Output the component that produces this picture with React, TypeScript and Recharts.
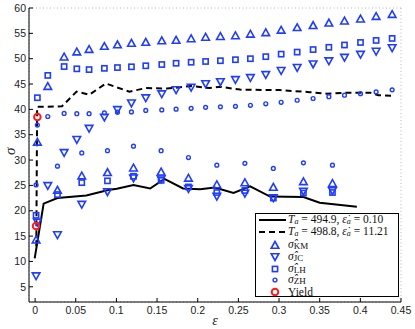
import {
  ComposedChart,
  CartesianGrid,
  Line,
  Scatter,
  XAxis,
  YAxis,
} from "recharts";

const BLUE = "#1f3cff";
const RED = "#ff1a1a";

const xTicks = [0, 0.05, 0.1, 0.15, 0.2, 0.25, 0.3, 0.35, 0.4, 0.45];
const yTicks = [5, 10, 15, 20, 25, 30, 35, 40, 45, 50, 55, 60];

// high strain-rate test (dashed curve)
const upperStrain = [
  0.0028, 0.0156, 0.0357, 0.0513, 0.0664, 0.0852, 0.1013, 0.1185, 0.1361,
  0.1558, 0.1734, 0.1919, 0.2097, 0.2279, 0.2464, 0.2648, 0.2837, 0.3026,
  0.3223, 0.3419, 0.3613, 0.3805, 0.4002, 0.4194, 0.4391,
];
const kmUpper = [
  33.5, 44.5, 50.3, 51.3, 51.8, 52.4, 52.7, 53.0, 53.2, 53.5, 53.6, 53.9, 54.2,
  54.35, 54.5, 54.8, 55.1, 55.6, 56.1, 56.5, 57.0, 57.4, 57.8, 58.3, 58.7,
];
const jcUpper = [
  17.8, 25.0, 31.5, 34.1, 36.3, 38.5, 40.0, 41.3, 42.3, 43.1, 43.9, 44.4, 45.1,
  45.5, 45.9, 46.3, 46.9, 47.7, 48.3, 49.0, 49.6, 50.3, 50.9, 51.5, 52.2,
];
const lhUpper = [
  42.3, 46.7, 48.45, 48.0, 47.85, 48.1, 48.25, 48.4, 48.6, 48.85, 49.1, 49.3,
  49.45, 49.6, 49.8, 50.0, 50.4, 50.9, 51.3, 51.8, 52.25, 52.7, 53.2, 53.6, 54.0,
];
const zhUpper = [
  36.9, 38.6, 39.2, 39.15, 39.15, 39.3, 39.45, 39.5, 39.8, 39.9, 40.05, 40.2,
  40.4, 40.5, 40.6, 40.8, 41.1, 41.4, 41.8, 42.15, 42.5, 42.8, 43.1, 43.45, 43.85,
];

// low strain-rate test (solid curve)
const lowerStrain = [
  0.0012, 0.0275, 0.0574, 0.089, 0.121, 0.155, 0.1886, 0.2235, 0.258, 0.293,
  0.33, 0.3657,
];
const kmLower = [14.2, 24.0, 26.85, 27.5, 28.4, 27.6, 26.4, 25.1, 25.5, 24.6, 25.7, 25.35];
const jcLower = [7.2, 15.3, 21.3, 23.8, 26.5, 26.3, 24.4, 22.9, 23.5, 22.6, 23.9, 24.0];
const lhLower = [19.1, 23.2, 25.55, 25.9, 26.8, 26.0, 24.7, 23.6, 24.0, 22.5, 23.5, 23.6];
const zhLower = [25.1, 28.8, 31.4, 31.85, 32.75, 31.85, 30.5, 29.0, 29.35, 28.35, 29.45, 29.0];

const yieldStrain = [0.0012, 0.0028];
const yieldStress = [17.0, 38.5];

const solidStrain = [
  -0.0005, 0.0105, 0.0275, 0.063, 0.09, 0.1005, 0.121, 0.1415, 0.159, 0.182,
  0.203, 0.221, 0.244, 0.2645, 0.289, 0.33, 0.35, 0.3957,
];
const solidStress = [
  10.6, 21.4, 22.5, 23.0, 24.1, 24.35, 25.1, 24.4, 26.3, 24.4, 24.25, 24.6, 23.5,
  24.8, 22.8, 22.7, 21.6, 20.8,
];
const dashedStrain = [
  0.0015, 0.0025, 0.033, 0.051, 0.0668, 0.087, 0.116, 0.136, 0.162, 0.192,
  0.215, 0.2275, 0.252, 0.301, 0.338, 0.359, 0.383, 0.412, 0.422, 0.44,
];
const dashedStress = [
  13.0, 40.5, 40.6, 43.5, 42.9, 45.1, 43.5, 44.2, 44.1, 44.6, 44.2, 44.45, 43.9,
  43.8, 43.4, 43.1, 43.3, 43.3, 42.8, 42.7,
];

const pts = (xs: number[], ys: number[]) => xs.map((x, i) => ({ x, y: ys[i] }));

const kmData = [...pts(upperStrain, kmUpper), ...pts(lowerStrain, kmLower)];
const jcData = [...pts(upperStrain, jcUpper), ...pts(lowerStrain, jcLower)];
const lhData = [...pts(upperStrain, lhUpper), ...pts(lowerStrain, lhLower)];
const zhData = [...pts(upperStrain, zhUpper), ...pts(lowerStrain, zhLower)];
const yieldData = pts(yieldStrain, yieldStress);
const solidData = pts(solidStrain, solidStress);
const dashedData = pts(dashedStrain, dashedStress);

const TriUp = ({ cx, cy }: any) => (
  <polygon
    points={`${cx},${cy - 4} ${cx - 3.8},${cy + 2.8} ${cx + 3.8},${cy + 2.8}`}
    fill="none"
    stroke={BLUE}
    strokeWidth={1.6}
  />
);
const TriDown = ({ cx, cy }: any) => (
  <polygon
    points={`${cx},${cy + 4} ${cx - 3.8},${cy - 2.8} ${cx + 3.8},${cy - 2.8}`}
    fill="none"
    stroke={BLUE}
    strokeWidth={1.6}
  />
);
const Square = ({ cx, cy }: any) => (
  <rect x={cx - 2.6} y={cy - 2.6} width={5.2} height={5.2} fill="none" stroke={BLUE} strokeWidth={1.6} />
);
const Dot = ({ cx, cy }: any) => (
  <circle cx={cx} cy={cy} r={1.9} fill="none" stroke={BLUE} strokeWidth={1.4} />
);
const YieldMark = ({ cx, cy }: any) => (
  <circle cx={cx} cy={cy} r={3.3} fill="none" stroke={RED} strokeWidth={2} />
);

const serif = "'Liberation Serif', 'DejaVu Serif', serif";
const sans = "'Liberation Sans', Arial, sans-serif";

const subStyle = { fontSize: 8, position: "relative", top: 1.5 } as const;

function LegendBox() {
  const row = (h: number, icon: any, text: any) => (
    <div style={{ display: "flex", alignItems: "center", height: h, whiteSpace: "nowrap" }}>
      <svg width={30} height={12} style={{ marginRight: 1, flex: "none" }}>
        {icon}
      </svg>
      {text}
    </div>
  );
  const hat = (name: string) => (
    <span>
      <i>{"σ\u0302"}</i>
      <span style={{ ...subStyle, fontSize: 9, top: 1 }}>{name}</span>
    </span>
  );
  const curve = (t: string, r: string) => (
    <span>
      <i>T</i>
      <i style={subStyle}>a</i> = {t}, <i>{"ε\u0307"}</i>
      <i style={subStyle}>a</i> = {r}
    </span>
  );
  return (
    <div
      style={{
        position: "absolute",
        left: 255,
        top: 213,
        width: 144,
        height: 84,
        border: "1px solid #000",
        background: "#fff",
        fontFamily: serif,
        fontSize: 11.5,
        lineHeight: "11px",
        paddingLeft: 1,
        boxSizing: "border-box",
        color: "#111",
      }}
    >
      {row(11, <line x1={2} y1={6} x2={29} y2={6} stroke="#000" strokeWidth={2} />, curve("494.9", "0.10"))}
      {row(
        13,
        <line x1={2} y1={6} x2={29} y2={6} stroke="#000" strokeWidth={2} strokeDasharray="6 4" />,
        curve("498.8", "11.21"),
      )}
      {row(13, <TriUp cx={18} cy={6.5} />, hat("KM"))}
      {row(12, <TriDown cx={18} cy={5.5} />, hat("JC"))}
      {row(11, <Square cx={18} cy={6} />, hat("LH"))}
      {row(11, <Dot cx={18} cy={6} />, hat("ZH"))}
      {row(12, <YieldMark cx={18} cy={7} />, <span style={{ position: "relative", top: 1.5 }}>Yield</span>)}
    </div>
  );
}

export default function App() {
  const tickStyle = { fontSize: 10.5, fontFamily: sans, fill: "#222" };
  return (
    <div style={{ position: "fixed", left: 0, top: 0, width: 415, height: 329, background: "#fff" }}>
      <ComposedChart
        width={415}
        height={329}
        margin={{ top: 8, right: 14, bottom: 0, left: 0 }}
      >
        <CartesianGrid stroke="#b8b8b8" strokeDasharray="1 2.5" />
        <XAxis
          xAxisId="b"
          type="number"
          dataKey="x"
          domain={[-0.0075, 0.45]}
          ticks={xTicks}
          allowDataOverflow
          height={27}
          stroke="#000"
          tickSize={-4}
          tickMargin={9}
          tick={tickStyle}
          label={{
            value: "ε",
            position: "insideBottom",
            offset: 4,
            style: { fontFamily: serif, fontStyle: "italic", fontSize: 14, fill: "#222" },
          }}
        />
        <XAxis
          xAxisId="t"
          orientation="top"
          type="number"
          dataKey="x"
          domain={[-0.0075, 0.45]}
          ticks={xTicks}
          allowDataOverflow
          height={0}
          stroke="#000"
          tickSize={-4}
          tick={false}
        />
        <YAxis
          yAxisId="l"
          type="number"
          dataKey="y"
          domain={[2, 60]}
          ticks={yTicks}
          allowDataOverflow
          width={29}
          stroke="#000"
          tickSize={-4}
          tickMargin={7}
          tick={tickStyle}
          label={{
            value: "σ",
            angle: -90,
            position: "insideLeft",
            offset: 10,
            style: { fontFamily: serif, fontStyle: "italic", fontSize: 15, fill: "#222" },
          }}
        />
        <YAxis
          yAxisId="r"
          orientation="right"
          type="number"
          dataKey="y"
          domain={[2, 60]}
          ticks={yTicks}
          allowDataOverflow
          width={0}
          stroke="#000"
          tickSize={-4}
          tick={false}
        />
        <Line
          xAxisId="b"
          yAxisId="l"
          data={solidData}
          dataKey="y"
          type="linear"
          stroke="#000"
          strokeWidth={2}
          dot={false}
          isAnimationActive={false}
        />
        <Line
          xAxisId="b"
          yAxisId="l"
          data={dashedData}
          dataKey="y"
          type="linear"
          stroke="#000"
          strokeWidth={2}
          strokeDasharray="6 4"
          dot={false}
          isAnimationActive={false}
        />
        <Scatter xAxisId="b" yAxisId="l" data={kmData} dataKey="y" shape={TriUp} isAnimationActive={false} />
        <Scatter xAxisId="b" yAxisId="l" data={jcData} dataKey="y" shape={TriDown} isAnimationActive={false} />
        <Scatter xAxisId="b" yAxisId="l" data={lhData} dataKey="y" shape={Square} isAnimationActive={false} />
        <Scatter xAxisId="b" yAxisId="l" data={zhData} dataKey="y" shape={Dot} isAnimationActive={false} />
        <Scatter xAxisId="b" yAxisId="l" data={yieldData} dataKey="y" shape={YieldMark} isAnimationActive={false} />
      </ComposedChart>
      <LegendBox />
    </div>
  );
}
